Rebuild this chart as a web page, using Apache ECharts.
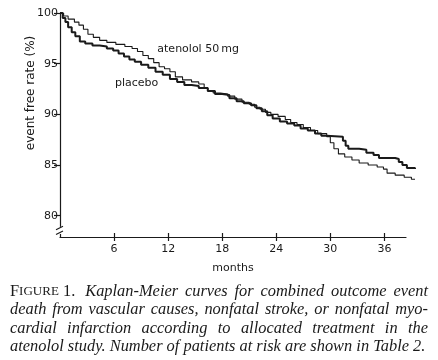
<!DOCTYPE html>
<html><head><meta charset="utf-8">
<script src="https://cdn.jsdelivr.net/npm/echarts@6/dist/echarts.min.js"></script>
<style>html,body{margin:0;padding:0;background:#fff}#c{width:438px;height:360px}</style>
</head><body><div id="c"></div>
<script>
const xTicks = [6, 12, 18, 24, 30, 36];
const yTicks = [80, 85, 90, 95, 100];
const seriesNames = ['atenolol 50\u2009mg', 'placebo'];
const xAxisName = 'months';
const yAxisName = 'event free rate (%)';

const atenololMonths = [0,0.4,0.9,1.6,2.1,2.6,3.1,3.7,4.4,5.2,6.2,7.2,8.0,8.6,9.2,9.8,10.4,11.0,11.6,12.2,12.8,13.6,14.6,15.4,16.0,16.4,17.0,17.8,18.6,19.4,20.2,21.0,21.6,22.2,22.8,23.4,24.2,25.0,25.6,26.3,27.0,27.8,28.6,29.6,30.0,30.4,30.9,31.6,32.4,33.2,34.2,35.2,35.9,36.3,37.2,38.2,39.0,39.4];
const atenololRate = [100,99.7,99.4,99.1,98.8,98.4,97.9,97.6,97.3,97.1,96.9,96.7,96.5,96.2,95.8,95.5,95.1,94.7,94.5,94.2,93.7,93.4,93.2,93.0,92.6,92.3,92.1,92.0,91.8,91.5,91.2,91.0,90.7,90.5,90.2,90.0,89.8,89.5,89.2,89.0,88.7,88.4,88.1,87.8,87.2,86.6,86.1,85.8,85.5,85.2,85.0,84.8,84.6,84.2,84.0,83.8,83.6,83.6];

const placeboMonths = [0,0.3,0.6,0.9,1.3,1.7,2.2,2.8,3.6,4.4,5.2,5.9,6.5,7.1,7.7,8.3,9.0,9.8,10.6,11.4,12.2,13.0,13.8,14.6,15.4,16.4,17.2,18.0,18.8,19.6,20.4,21.2,21.8,22.4,23.0,23.6,24.4,25.2,26.0,26.7,27.5,28.3,29.0,29.6,31.4,31.7,32.0,33.2,34.0,34.8,35.4,37.2,37.6,38.0,38.5,39.4];
const placeboRate = [100,99.5,99.1,98.6,98.1,97.7,97.2,97.0,96.8,96.7,96.5,96.3,96.0,95.7,95.4,95.2,94.9,94.6,94.2,93.9,93.5,93.2,92.9,92.8,92.6,92.3,92.0,91.9,91.6,91.3,91.1,90.9,90.6,90.3,89.9,89.6,89.3,89.1,88.9,88.6,88.4,88.1,87.9,87.8,87.4,86.9,86.6,86.5,86.2,86.0,85.7,85.6,85.3,85.0,84.7,84.6];

const labelAnchors = { atenolol: [10.8, 96.4], placebo: [6.1, 93.1] };

const captionLines = [
  ['Kaplan-Meier', 'curves', 'for', 'combined', 'outcome', 'event'],
  ['death', 'from', 'vascular', 'causes,', 'nonfatal', 'stroke,', 'or', 'nonfatal', 'myo-'],
  ['cardial', 'infarction', 'according', 'to', 'allocated', 'treatment', 'in', 'the'],
  ['atenolol', 'study.', 'Number', 'of', 'patients', 'at', 'risk', 'are', 'shown', 'in', 'Table', '2.']
];

const INK = '#1a1a1a';
const SANS = 'DejaVu Sans';
const SERIF = 'Liberation Serif';

const chart = echarts.init(document.getElementById('c'), null, { renderer: 'canvas' });

const axisCommon = { color: INK, fontFamily: SANS, fontSize: 11 };
const X_AXIS_MAX = 38.4;   // drawn axis extent
const X_DATA_MAX = 39.4;   // curves run slightly past the axis end
const Y_MIN = 77.9, Y_MAX = 100;
const plotLeft = 60, axisRight = 32;
const plotWidth = 438 - plotLeft - axisRight;
const dataRight = 438 - plotLeft - plotWidth * X_DATA_MAX / X_AXIS_MAX;

chart.setOption({
  animation: false,
  backgroundColor: '#fff',
  grid: [
    { left: plotLeft, right: axisRight, top: 13, bottom: 123 },
    { left: plotLeft, right: dataRight, top: 13, bottom: 123 }
  ],
  xAxis: [{
    gridIndex: 0, type: 'value', min: 0, max: X_AXIS_MAX, interval: 6,
    axisLine: { show: true, lineStyle: { color: INK, width: 1.2 } },
    axisTick: { show: true, length: 4, customValues: xTicks, lineStyle: { color: INK, width: 1.2 } },
    axisLabel: Object.assign({ customValues: xTicks, margin: 7 }, axisCommon),
    splitLine: { show: false },
    name: xAxisName, nameLocation: 'middle', nameGap: 26,
    nameTextStyle: { color: INK, fontFamily: SANS, fontSize: 11 }
  }, {
    gridIndex: 0, type: 'value', min: 0, max: X_AXIS_MAX, interval: 6, position: 'bottom',
    axisLine: { show: false },
    axisTick: { show: true, inside: true, length: 4, customValues: xTicks, lineStyle: { color: INK, width: 1.2 } },
    axisLabel: { show: false }, splitLine: { show: false }
  }, {
    gridIndex: 1, type: 'value', min: 0, max: X_DATA_MAX, show: false
  }],
  yAxis: [{
    gridIndex: 0, type: 'value', min: Y_MIN, max: Y_MAX,
    axisLine: { show: true, lineStyle: { color: INK, width: 1.2 } },
    axisTick: { show: true, length: 6, customValues: yTicks, lineStyle: { color: INK, width: 1.2 } },
    axisLabel: Object.assign({ customValues: yTicks, margin: 2 }, axisCommon),
    splitLine: { show: false }
  }, {
    gridIndex: 1, type: 'value', min: Y_MIN, max: Y_MAX, show: false
  }],
  series: [{
    name: seriesNames[0], type: 'line', step: 'end', showSymbol: false, xAxisIndex: 2, yAxisIndex: 1,
    lineStyle: { color: INK, width: 1.1 },
    data: atenololMonths.map((m, i) => [m, atenololRate[i]])
  }, {
    name: seriesNames[1], type: 'line', step: 'end', showSymbol: false, xAxisIndex: 2, yAxisIndex: 1,
    lineStyle: { color: INK, width: 2 },
    data: placeboMonths.map((m, i) => [m, placeboRate[i]])
  }]
});

const cv = document.createElement('canvas').getContext('2d');
function tw(text, font) { cv.font = font; return cv.measureText(text).width; }

const g = [];
const pA = chart.convertToPixel({ gridIndex: 0 }, labelAnchors.atenolol);
const pP = chart.convertToPixel({ gridIndex: 0 }, labelAnchors.placebo);
g.push({ type: 'text', x: pA[0], y: pA[1], style: { text: seriesNames[0], fill: INK, font: '11px "' + SANS + '"', textAlign: 'left', textVerticalAlign: 'middle', align: 'left', verticalAlign: 'middle' } });
g.push({ type: 'text', x: pP[0], y: pP[1], style: { text: seriesNames[1], fill: INK, font: '11px "' + SANS + '"', textAlign: 'left', textVerticalAlign: 'middle', align: 'left', verticalAlign: 'middle' } });

g.push({ type: 'text', x: 31, y: 93, rotation: Math.PI / 2, style: { text: yAxisName, fill: INK, font: '12px "' + SANS + '"', textAlign: 'center', textVerticalAlign: 'middle', align: 'center', verticalAlign: 'middle' } });

const b1 = chart.convertToPixel({ gridIndex: 0 }, [0, 78.9]);
const b2 = chart.convertToPixel({ gridIndex: 0 }, [0, 78.2]);
g.push({ type: 'rect', shape: { x: b1[0] - 3, y: b1[1], width: 6, height: b2[1] - b1[1] }, style: { fill: '#fff' }, z: 100 });
g.push({ type: 'line', shape: { x1: b1[0] - 4, y1: b1[1] + 3, x2: b1[0] + 3, y2: b1[1] - 0.5 }, style: { stroke: INK, lineWidth: 1.1 }, z: 101 });
g.push({ type: 'line', shape: { x1: b1[0] - 4, y1: b2[1] + 0.5, x2: b1[0] + 3, y2: b2[1] - 3 }, style: { stroke: INK, lineWidth: 1.1 }, z: 101 });

const FS = 16.4, SC = 13;
const italicFont = 'italic ' + FS + 'px "' + SERIF + '"';
const romanFont = FS + 'px "' + SERIF + '"';
const capLeft = 10, capRight = 428;
const lineY = [291.5, 310, 328.5, 347];
const figW = tw('F', romanFont) + tw('IGURE', SC + 'px "' + SERIF + '"') + tw(' 1.', romanFont);
captionLines.forEach((words, li) => {
  const widths = words.map(wd => tw(wd, italicFont));
  let startX = capLeft;
  if (li === 0) {
    g.push({ type: 'text', x: capLeft, y: lineY[li], style: { text: '{a|F}{b|IGURE}{a| 1.}', fill: INK, textVerticalAlign: 'middle', verticalAlign: 'middle', rich: { a: { fontSize: FS, fontFamily: SERIF, fill: INK }, b: { fontSize: SC, fontFamily: SERIF, fill: INK } } } });
    startX = capLeft + figW + 10;
  }
  const sum = widths.reduce((a, b) => a + b, 0);
  const gaps = words.length - 1;
  const gap = li === captionLines.length - 1 ? tw(' ', italicFont) : (capRight - startX - sum) / gaps;
  let x = startX;
  words.forEach((wd, i) => {
    g.push({ type: 'text', x: x, y: lineY[li], style: { text: wd, fill: INK, font: italicFont, textAlign: 'left', align: 'left', textVerticalAlign: 'middle', verticalAlign: 'middle' } });
    x += widths[i] + gap;
  });
});

chart.setOption({ graphic: g });
</script>
</body></html>
